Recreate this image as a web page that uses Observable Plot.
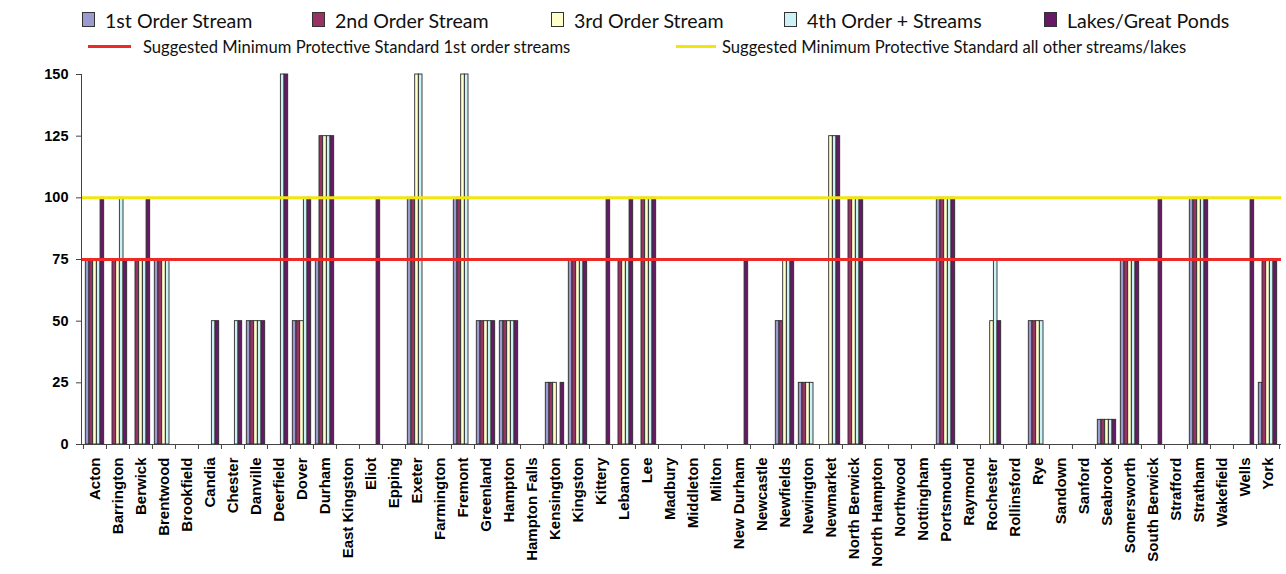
<!DOCTYPE html>
<html><head><meta charset="utf-8">
<script src="https://cdn.jsdelivr.net/npm/d3@7"></script>
<script src="https://cdn.jsdelivr.net/npm/@observablehq/plot@0.6"></script>
<style>
body{margin:0;background:#fff;}
#wrap{position:relative;width:1286px;height:574px;overflow:hidden;background:#fff;}
.lg{position:absolute;font-family:Lato,"Open Sans",sans-serif;color:#111;white-space:nowrap;}
.r1{font-size:19.6px;line-height:22px;top:10px;}
.r2{font-size:16.6px;line-height:18px;top:38px;}
.sq{position:absolute;top:12px;width:11px;height:13px;border:1px solid #333;}
.ln{position:absolute;top:45px;height:3px;}
#chart{position:absolute;left:0;top:60px;}
#ytitle{position:absolute;left:18px;top:260px;transform:translate(-50%,-50%) rotate(-90deg);font-family:"Liberation Sans",Arial,sans-serif;font-size:16.4px;white-space:nowrap;color:#000;}
</style></head><body>
<div id="wrap">
  <div id="legend"></div>
  <div id="ytitle">Buffer Width in Feet</div>
  <div id="chart"></div>
</div>
<script>
const towns = ["Acton","Barrington","Berwick","Brentwood","Brookfield","Candia","Chester","Danville","Deerfield","Dover","Durham","East Kingston","Eliot","Epping","Exeter","Farmington","Fremont","Greenland","Hampton","Hampton Falls","Kensington","Kingston","Kittery","Lebanon","Lee","Madbury","Middleton","Milton","New Durham","Newcastle","Newfields","Newington","Newmarket","North Berwick","North Hampton","Northwood","Nottingham","Portsmouth","Raymond","Rochester","Rollinsford","Rye","Sandown","Sanford","Seabrook","Somersworth","South Berwick","Strafford","Stratham","Wakefield","Wells","York"];

const firstOrder  = [75,null,null,75,null,null,null,50,null,50,75,null,null,null,100,null,100,50,50,null,25,75,null,null,null,null,null,null,null,null,50,25,null,null,null,null,null,100,null,null,null,50,null,null,10,75,null,null,100,null,null,25];
const secondOrder = [75,75,75,75,null,null,null,50,null,50,125,null,null,null,100,null,100,50,50,null,25,75,null,75,100,null,null,null,null,null,50,25,null,100,null,null,null,100,null,null,null,50,null,null,10,75,null,null,100,null,null,75];
const thirdOrder  = [75,75,75,75,null,null,null,50,null,50,125,null,null,null,150,null,150,50,50,null,25,75,null,75,100,null,null,null,null,null,75,25,125,100,null,null,null,100,null,50,null,50,null,null,10,75,null,null,100,null,null,75];
const fourthOrder = [75,100,75,75,null,50,50,50,150,100,125,null,null,null,150,null,150,50,50,null,null,75,null,75,100,null,null,null,null,null,75,25,125,100,null,null,null,100,null,75,null,50,null,null,10,75,null,null,100,null,null,75];
const lakes       = [100,75,100,null,null,50,50,50,150,100,125,null,100,null,null,null,null,50,50,null,25,75,100,100,100,null,null,null,75,null,75,null,125,100,null,null,null,100,null,50,null,null,null,null,10,75,100,null,100,null,100,75];

const seriesNames = ["1st Order Stream","2nd Order Stream","3rd Order Stream","4th Order + Streams","Lakes/Great Ponds"];
const seriesColors = ["#9b9bcf","#993366","#ffffcc","#ccf2f8","#661a66"];
const yTicks = [0,25,50,75,100,125,150];
const standards = [75,100];
const standardNames = ["Suggested Minimum Protective Standard 1st order streams","Suggested Minimum Protective Standard all other streams/lakes"];
const standardColors = ["#ee2a26","#f2e610"];

const seriesValues = [firstOrder,secondOrder,thirdOrder,fourthOrder,lakes];

// legend
const legend = document.getElementById("legend");
const sqX = [82,312,551,784,1044];
seriesNames.forEach((n,i)=>{
  const sq=document.createElement("div"); sq.className="sq"; sq.style.left=sqX[i]+"px"; sq.style.background=seriesColors[i]; legend.appendChild(sq);
  const tx=document.createElement("div"); tx.className="lg r1"; tx.style.left=(sqX[i]+23)+"px"; tx.textContent=n; legend.appendChild(tx);
});
const lnX=[88,676], lnW=[43,40], lnT=[143,722];
standardNames.forEach((n,i)=>{
  const ln=document.createElement("div"); ln.className="ln"; ln.style.left=lnX[i]+"px"; ln.style.width=lnW[i]+"px"; ln.style.background=standardColors[i]; legend.appendChild(ln);
  const tx=document.createElement("div"); tx.className="lg r2"; tx.style.left=lnT[i]+"px"; tx.textContent=n; legend.appendChild(tx);
});

const W=1286, H=514, ML=81, MR=5, MT=14, MB=130;
const step=(W-ML-MR)/towns.length;
const pad=step*0.1;
const bw=(step-2*pad)/seriesNames.length;

const barMarks = seriesValues.map((arr,s)=>Plot.barY(
  towns.map((t,i)=>({town:t, value:arr[i]})).filter(d=>d.value!=null),
  {x:"town", y:"value", fill:seriesColors[s], stroke:"#2a2a2a", strokeWidth:0.9,
   insetLeft: pad + s*bw, insetRight: pad + (seriesNames.length-1-s)*bw}
));

const chart = Plot.plot({
  width:W, height:H, marginLeft:ML, marginRight:MR, marginTop:MT, marginBottom:MB,
  style:{fontFamily:'"Liberation Sans", Arial, sans-serif', background:"white", color:"#000", overflow:"visible"},
  x:{domain:towns, padding:0, label:null},
  y:{domain:[0,150], label:null},
  marks:[
    ...barMarks,
    Plot.ruleY(standards,{stroke:(d,i)=>standardColors[i], strokeWidth:3}),
    Plot.ruleY([0],{stroke:"#444", strokeWidth:1}),
    Plot.frame({anchor:"left", stroke:"#444"}),
    Plot.axisY({ticks:yTicks, tickSize:5, tickPadding:8, fontWeight:"bold", fontSize:14.5, label:null, stroke:"#444"}),
    Plot.axisX({anchor:"bottom", tickSize:0, tickPadding:13, tickRotate:-90, fontWeight:"bold", fontSize:15, label:null}),
    Plot.axisX({anchor:"bottom", tickSize:5, tickFormat:()=>"", dx:-step/2, label:null, stroke:"#444"}),
    Plot.axisX({anchor:"bottom", ticks:[towns[towns.length-1]], tickSize:5, tickFormat:()=>"", dx:step/2, label:null, stroke:"#444"})
  ]
});
document.getElementById("chart").appendChild(chart);
</script>
</body></html>
